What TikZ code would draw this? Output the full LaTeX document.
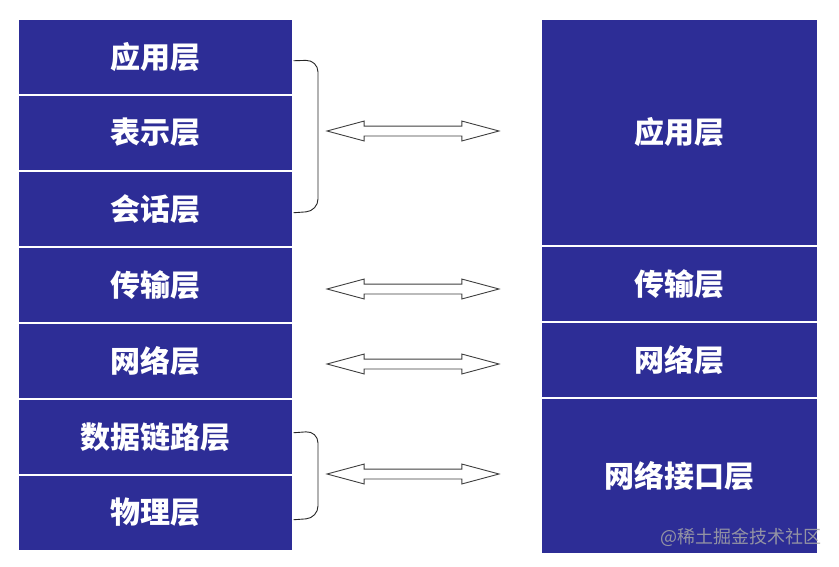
\documentclass[tikz,border=0pt]{standalone}
\usepackage{fontspec}
\newfontfamily\cjk{Noto Sans CJK SC}
\usetikzlibrary{shapes.arrows,calc}
\definecolor{osiblue}{RGB}{45,45,150}

\begin{document}
\begin{tikzpicture}[x=1pt,y=-1pt,
  layer/.style={draw=white,line width=1.5pt,fill=osiblue,inner sep=0pt,
    anchor=north west,text=white,font=\cjk\bfseries\fontsize{30}{32}\selectfont},
  leftlayer/.style={layer,minimum width=275pt,minimum height=76pt},
  rightlayer/.style={layer,minimum width=277pt},
  dblarrow/.style={double arrow,draw=black!75,line width=0.9pt,fill=white,
    inner xsep=0pt,inner ysep=4.5pt,minimum height=172pt,minimum width=19pt,
    double arrow head extend=5pt,double arrow tip angle=30},
  brace/.style={draw=black!85,line width=0.9pt,rounded corners=12pt}]
\useasboundingbox[fill=white] (0,0) rectangle (839,566);

% left: seven layers
\node[leftlayer] (app)   at (17,18)  {应用层};
\node[leftlayer] (pres)  at (17,94)  {表示层};
\node[leftlayer] (sess)  at (17,170) {会话层};
\node[leftlayer] (trans) at (17,246) {传输层};
\node[leftlayer] (net)   at (17,322) {网络层};
\node[leftlayer] (link)  at (17,398) {数据链路层};
\node[leftlayer] (phys)  at (17,474) {物理层};

% right: four layers
\node[rightlayer,minimum height=227pt] (tapp)   at (540,18)  {应用层};
\node[rightlayer,minimum height=76pt]  (ttrans) at (540,245) {传输层};
\node[rightlayer,minimum height=76pt]  (tnet)   at (540,321) {网络层};
\node[rightlayer,minimum height=156pt] (tlink)  at (540,397) {网络接口层};

% braces
\draw[brace] ([yshift=-4pt]app.east) -- (318,60) -- (318,211) -- ([yshift=-4pt]sess.east);
\draw[brace] ([yshift=4pt]link.east) -- (318,431) -- (318,518) -- ([yshift=-7pt]phys.east);

% arrows
\coordinate (a1l) at (327,131); \coordinate (a1r) at (499,131);
\coordinate (a2l) at (327,289); \coordinate (a2r) at (499,289);
\coordinate (a3l) at (327,364); \coordinate (a3r) at (499,364);
\coordinate (a4l) at (327,474); \coordinate (a4r) at (499,474);
\node[dblarrow] (arr1) at ($(a1l)!0.5!(a1r)$) {};
\node[dblarrow] (arr2) at ($(a2l)!0.5!(a2r)$) {};
\node[dblarrow] (arr3) at ($(a3l)!0.5!(a3r)$) {};
\node[dblarrow] (arr4) at ($(a4l)!0.5!(a4r)$) {};

% watermark
\node[text=gray!70,opacity=0.85,font=\cjk\fontsize{18}{20}\selectfont] (mark) at (741,537) {@稀土掘金技术社区};
\end{tikzpicture}
\end{document}
